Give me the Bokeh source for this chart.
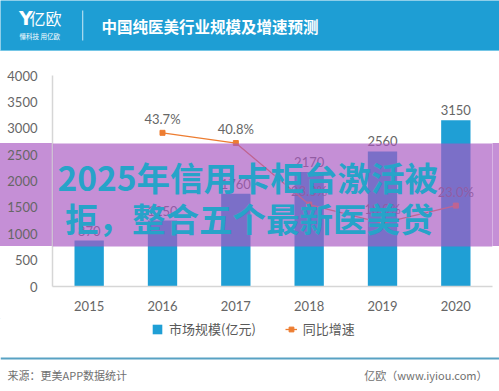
from bokeh.plotting import figure
from bokeh.layouts import column
from bokeh.models import (Range1d, FactorRange, FixedTicker, Label, BoxAnnotation,
                          Legend, LegendItem, ColumnDataSource)
from bokeh.core.properties import value
from bokeh.embed import file_html
from bokeh.resources import INLINE

# ---------------- data ----------------
years = ["2015", "2016", "2017", "2018", "2019", "2020"]
market_size = [870, 1250, 1760, 2170, 2560, 3150]          # 市场规模(亿元)
growth_years = ["2016", "2017", "2018", "2019", "2020"]
growth_rate = [43.7, 40.8, 23.3, 18.0, 23.0]                 # 同比增速 (%)
y_ticks = [0, 500, 1000, 1500, 2000, 2500, 3000, 3500, 4000]

title_text = "中国纯医美行业规模及增速预测"
logo_text = "亿欧"
slogan_text = "懂科技 用亿欧"
source_text = "来源：更美APP数据统计"
site_text = "亿欧（www.iyiou.com）"
banner_lines = ["2025年信用卡柜台激活被", "拒，整合五个最新医美贷"]
legend_labels = ["市场规模(亿元)", "同比增速"]

# ---------------- style ----------------
W = 499
H_HEAD, H_CHART, H_FOOT = 51, 267, 73
CJK = "Noto Sans CJK SC"
NUM = "Lato"
GRAY = "#666666"
BLUE = "#1f9fd5"
HEAD_BLUE = "#1e9ed4"
ORANGE = "#ed7d31"
BANNER = "#a958c2"
BANNER_ON_WHITE = "#c58fd6"
BANNER_TEXT = "#27a3c9"


def no_align(f):
    try:
        f.frame_align = False
    except Exception:
        pass


def plain_fig(h, y0, y1):
    f = figure(width=W, height=h, output_backend="svg", toolbar_location=None,
               x_range=Range1d(0, W), y_range=Range1d(y1, y0),
               x_axis_location=None, y_axis_location=None, min_border=0)
    f.outline_line_color = None
    f.grid.visible = False
    no_align(f)
    return f


def lab(f, x, y, text, size, color, font=CJK, style="normal", align="left", alpha=1.0):
    f.add_layout(Label(x=x, y=y, text=text, text_font=font, text_font_size=size,
                       text_color=color, text_font_style=style, text_align=align,
                       text_baseline="middle", text_alpha=alpha))


# ---------------- header ----------------
head = plain_fig(H_HEAD, 0, H_HEAD)
head.background_fill_color = HEAD_BLUE
head.border_fill_color = HEAD_BLUE
head.add_layout(BoxAnnotation(left=0, right=W, top=50, bottom=51, fill_color="#c9eef8",
                              fill_alpha=1, line_color=None))
head.add_layout(BoxAnnotation(left=81.5, right=82.8, top=10, bottom=40, fill_color="white",
                              fill_alpha=0.6, line_color=None))
lab(head, 18.5, 17, "Y", "19px", "white", font="DejaVu Sans", style="bold")
lab(head, 29, 17, logo_text, "16px", "white")
lab(head, 19, 35, slogan_text, "6.5px", "white")
lab(head, 101, 25, title_text, "15.5px", "white", style="bold")

# ---------------- chart ----------------
FT, FB, FL, FR = 24, 235, 52, 492     # frame edges inside the chart figure
p = figure(width=W, height=H_CHART, output_backend="svg", toolbar_location=None,
           x_range=FactorRange(*years), y_range=Range1d(0, 4000),
           min_border_left=FL, min_border_right=W - FR,
           min_border_top=FT, min_border_bottom=H_CHART - FB)
no_align(p)
p.extra_y_ranges = {"pct": Range1d(0, 60)}
p.outline_line_color = None
p.xgrid.visible = False
p.ygrid.visible = False
p.background_fill_color = "white"
p.border_fill_alpha = 0
band_top, band_bot = 143 - H_HEAD, 246 - H_HEAD
p.styles = {"background": "linear-gradient(to bottom, #ffffff 0px, #ffffff %dpx, %s %dpx, %s %dpx, #ffffff %dpx, #ffffff 100%%)"
            % (band_top, BANNER_ON_WHITE, band_top, BANNER_ON_WHITE, band_bot, band_bot)}

for ax in (p.xaxis[0], p.yaxis[0]):
    ax.axis_line_color = "#d6d6d6"
    ax.axis_line_width = 1.5
    ax.major_tick_line_color = None
    ax.minor_tick_line_color = None
    ax.major_label_text_font = NUM
    ax.major_label_text_font_size = "13px"
    ax.major_label_text_color = GRAY
p.yaxis[0].ticker = FixedTicker(ticks=y_ticks)
p.yaxis[0].major_label_standoff = 9
p.xaxis[0].major_label_standoff = 8

src = ColumnDataSource(dict(x=years, top=market_size, lbl=[str(v) for v in market_size]))
bars = p.vbar(x="x", top="top", width=0.4, source=src, fill_color=BLUE, line_color=None)
p.text(x="x", y="top", text="lbl", source=src, text_align="center", text_baseline="bottom",
       y_offset=-5, text_font=value(NUM), text_font_size="13px", text_color=GRAY)

gsrc = ColumnDataSource(dict(x=growth_years, y=growth_rate,
                             lbl=["%.1f%%" % v for v in growth_rate]))
p.line(x="x", y="y", source=gsrc, y_range_name="pct", line_color=ORANGE, line_width=1.3)
p.scatter(x="x", y="y", source=gsrc, y_range_name="pct", marker="square", size=5,
          fill_color=ORANGE, line_color=ORANGE)
p.text(x="x", y="y", text="lbl", source=gsrc, y_range_name="pct", text_align="center",
       text_baseline="bottom", y_offset=-6, text_font=value(NUM), text_font_size="13px",
       text_color=GRAY)

# overlay banner (inside the frame), frame-relative screen units, y upward
p.add_layout(BoxAnnotation(bottom=FB - band_bot, top=FB - band_top,
                           bottom_units="screen", top_units="screen",
                           fill_color=BANNER, fill_alpha=0.67, line_color=None,
                           level="overlay"))
for (rx, ry), txt in zip([(57, 175.5), (64.5, 217.3)], banner_lines):
    p.add_layout(Label(x=rx - FL, y=FB - (ry - H_HEAD), x_units="screen",
                       y_units="screen", text=txt, text_font=CJK, text_font_size="33.5px",
                       text_font_style="bold", text_color=BANNER_TEXT,
                       text_baseline="alphabetic", level="overlay"))

# ---------------- footer (legend + source) ----------------
Y0 = H_HEAD + H_CHART
foot = plain_fig(H_FOOT, Y0, Y0 + H_FOOT)
foot.background_fill_color = "white"
kb = foot.vbar(x=[-1000], top=[-1000], bottom=[-1001], width=1, fill_color=BLUE,
               line_color=None)
kl = foot.line(x=[-1000, -999], y=[-1000, -1000], line_color=ORANGE, line_width=1.3)
ks = foot.scatter(x=[-1000], y=[-1000], marker="square", size=5, fill_color=ORANGE,
                  line_color=ORANGE)
leg = Legend(items=[LegendItem(label=legend_labels[0], renderers=[kb]),
                    LegendItem(label=legend_labels[1], renderers=[kl, ks])],
             orientation="horizontal", location=(151, H_FOOT - (328 - Y0) - 10),
             padding=0, margin=0, spacing=29, glyph_width=12, glyph_height=12,
             label_standoff=6, label_height=14,
             label_text_font=CJK, label_text_font_size="13px", label_text_color="#595959",
             border_line_color=None, background_fill_alpha=0)
foot.add_layout(leg)
foot.add_layout(BoxAnnotation(left=0, right=W, top=357, bottom=359, fill_color="#58a2c3",
                              fill_alpha=1, line_color=None))
lab(foot, 7, 374, source_text, "11px", "#707070")
lab(foot, 487, 374, site_text, "11px", "#707070", align="right")

layout = column(head, p, foot, spacing=0)
open("out.html", "w").write(file_html(layout, INLINE))
